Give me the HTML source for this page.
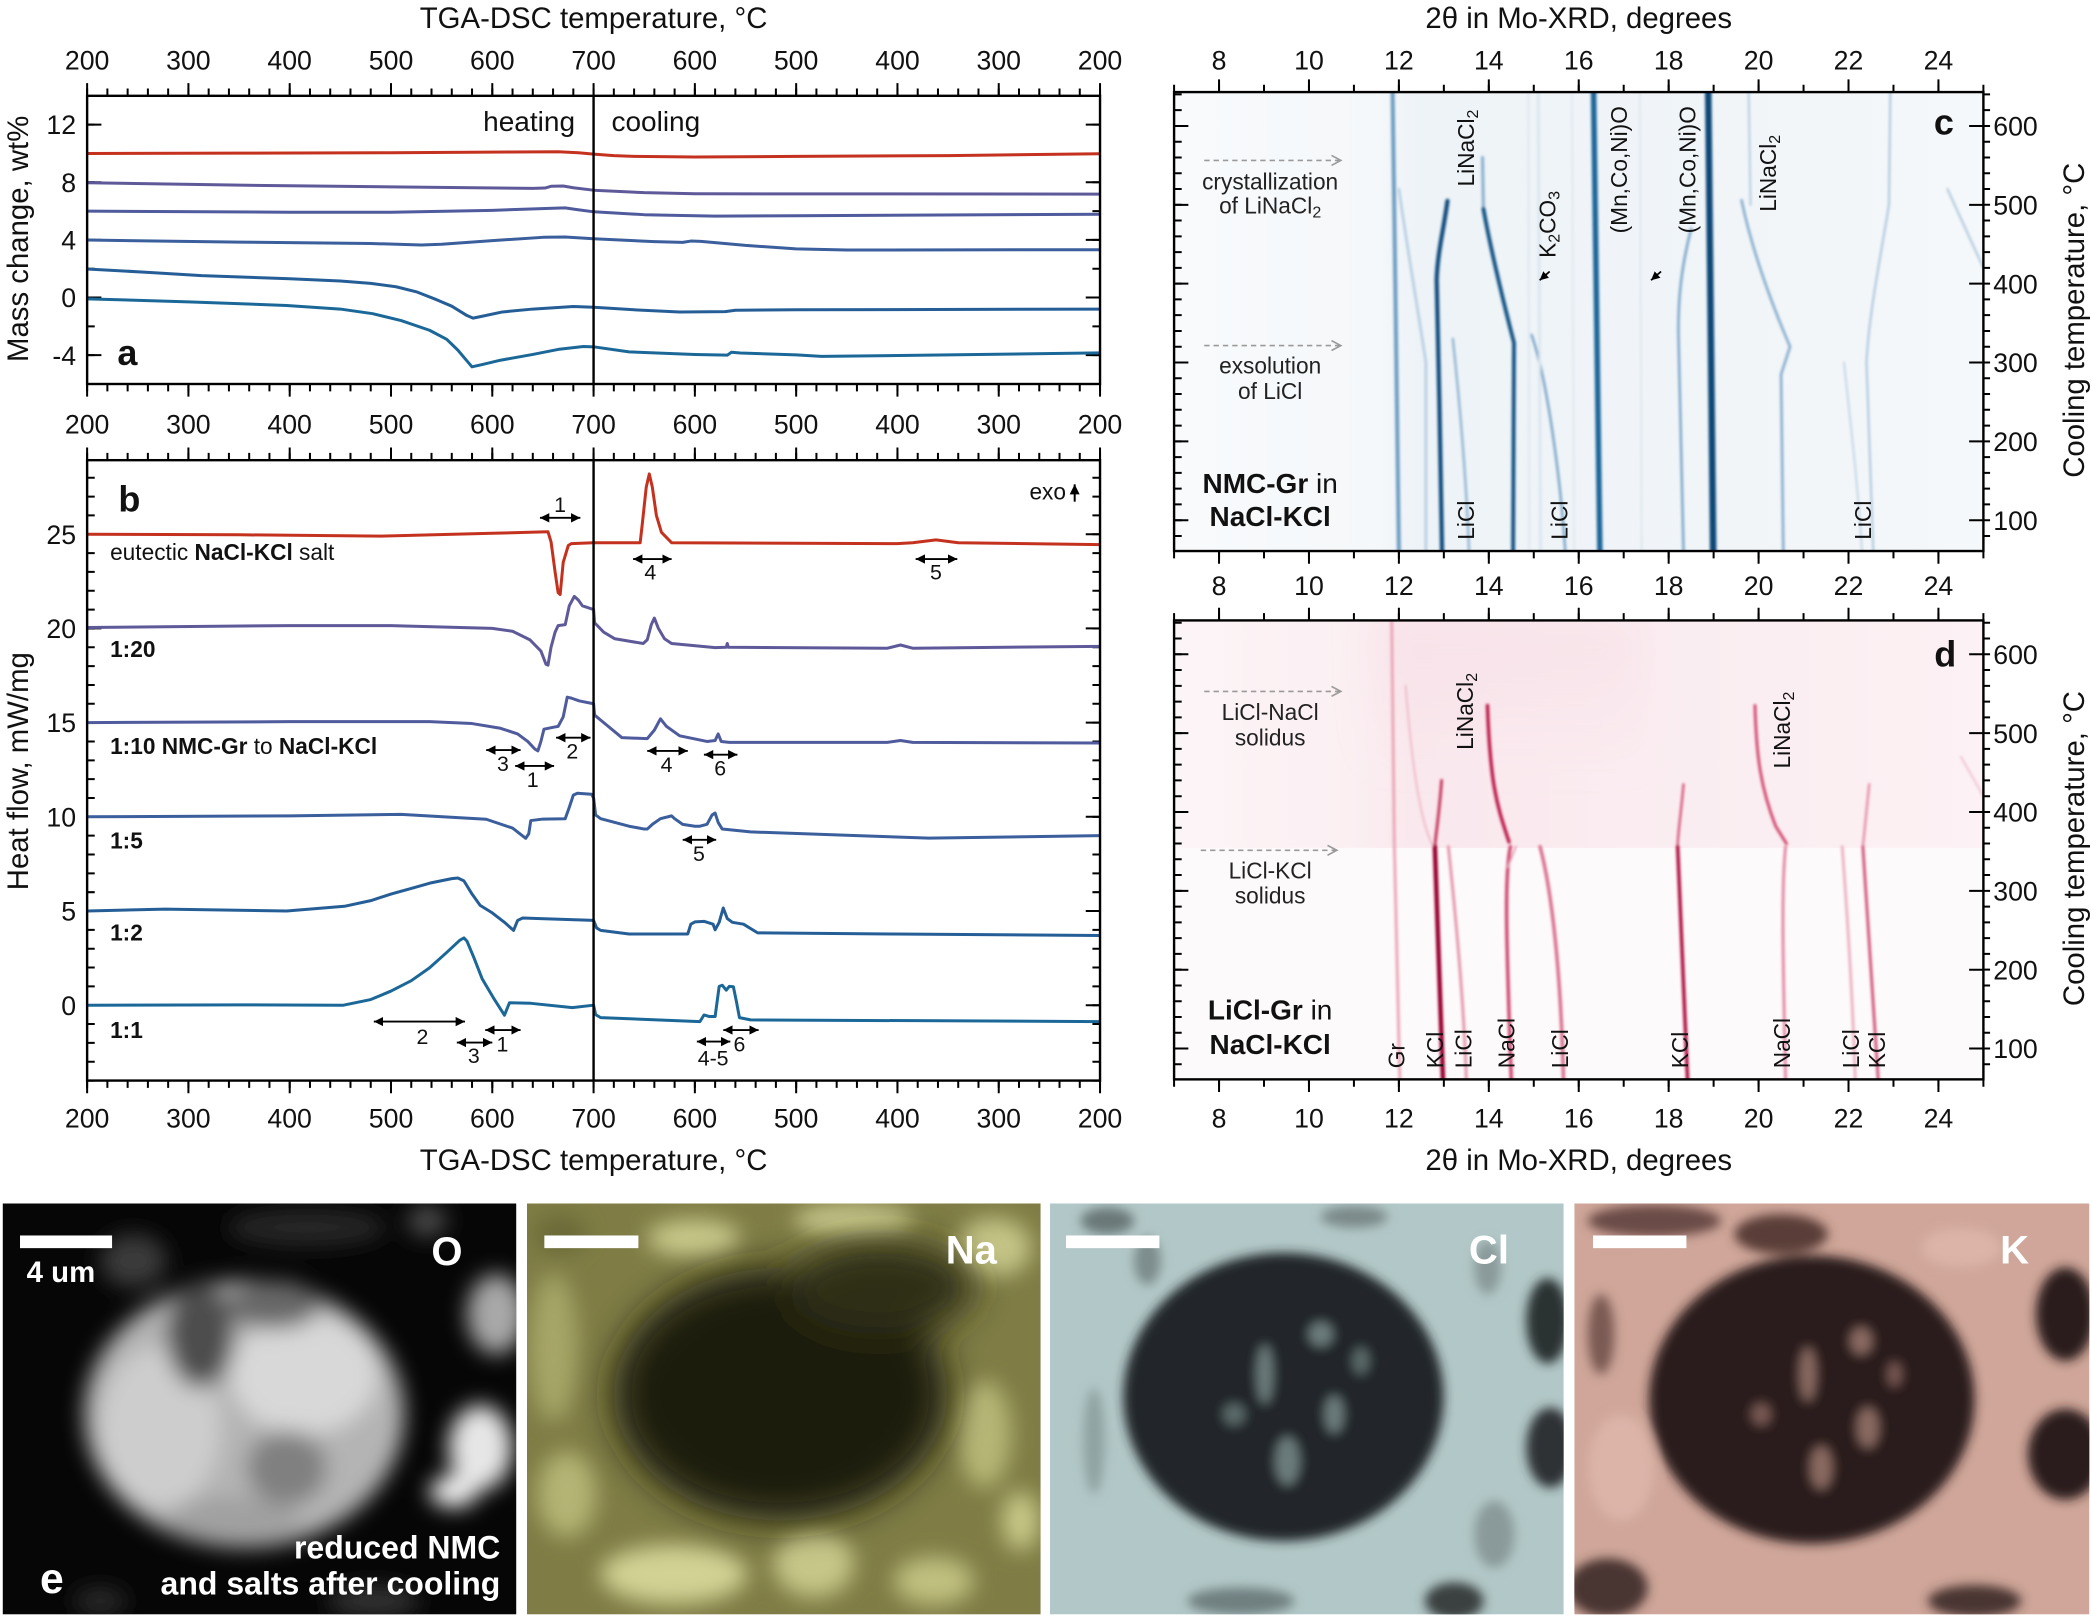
<!DOCTYPE html>
<html><head><meta charset="utf-8"><style>
html,body{margin:0;padding:0;background:#fff}
svg{display:block}
.ns path,.ns polyline,.ns line{vector-effect:non-scaling-stroke}
</style></head><body>
<svg xmlns="http://www.w3.org/2000/svg" width="2092" height="1616" viewBox="0 0 1568 1211.2" font-family="'Liberation Sans', Arial, sans-serif" fill="#111">
<defs>
<clipPath id="clipC"><rect x="880" y="69" width="606.6" height="344"/></clipPath>
<clipPath id="clipD"><rect x="880" y="465" width="606.6" height="344"/></clipPath>
<clipPath id="e1"><rect x="2" y="902" width="385" height="308"/></clipPath>
<clipPath id="e2"><rect x="395" y="902" width="385" height="308"/></clipPath>
<clipPath id="e3"><rect x="787" y="902" width="385" height="308"/></clipPath>
<clipPath id="e4"><rect x="1180" y="902" width="386" height="308"/></clipPath>
<linearGradient id="gC" x1="0" y1="0" x2="1" y2="0">
<stop offset="0" stop-color="#f8fafc"/><stop offset="0.25" stop-color="#f5f8fa"/><stop offset="0.3" stop-color="#eef3f7"/><stop offset="0.7" stop-color="#f1f5f8"/><stop offset="1" stop-color="#f5f8fa"/>
</linearGradient>
<linearGradient id="gD" x1="0" y1="0" x2="1" y2="0">
<stop offset="0" stop-color="#fcf5f7"/><stop offset="0.22" stop-color="#fbeff2"/><stop offset="0.3" stop-color="#f9e8ed"/><stop offset="0.55" stop-color="#faecf0"/><stop offset="1" stop-color="#fcf1f4"/>
</linearGradient>
<linearGradient id="gD2" x1="0" y1="0" x2="0" y2="1">
<stop offset="0" stop-color="#f6dde5" stop-opacity="0.6"/><stop offset="1" stop-color="#f6dde5" stop-opacity="0"/>
</linearGradient>
<filter id="bl1" x="-5%" y="-5%" width="110%" height="110%"><feGaussianBlur stdDeviation="0.9"/></filter>
<filter id="bl4" x="-20%" y="-20%" width="140%" height="140%"><feGaussianBlur stdDeviation="4"/></filter>
<filter id="bl8" x="-20%" y="-20%" width="140%" height="140%"><feGaussianBlur stdDeviation="8"/></filter>
<filter id="bl14" x="-30%" y="-30%" width="160%" height="160%"><feGaussianBlur stdDeviation="14"/></filter>
<marker id="ar" viewBox="0 0 10 10" refX="10" refY="5" markerWidth="5" markerHeight="5" orient="auto"><path d="M0,0L10,5L0,10z" fill="#000"/></marker>
<marker id="al" viewBox="0 0 10 10" refX="0" refY="5" markerWidth="5" markerHeight="5" orient="auto"><path d="M10,0L0,5L10,10z" fill="#000"/></marker>
</defs>

<!-- ===================== PANEL A ===================== -->
<text x="444.9" y="21" font-size="22" text-anchor="middle">TGA-DSC temperature, °C</text>
<g font-size="20" text-anchor="middle">
<text x="65.3" y="52">200</text><text x="141.2" y="52">300</text><text x="217.1" y="52">400</text><text x="293.1" y="52">500</text><text x="369" y="52">600</text><text x="444.9" y="52">700</text><text x="520.8" y="52">600</text><text x="596.7" y="52">500</text><text x="672.7" y="52">400</text><text x="748.6" y="52">300</text><text x="824.5" y="52">200</text>
<text x="65.3" y="324.8">200</text><text x="141.2" y="324.8">300</text><text x="217.1" y="324.8">400</text><text x="293.1" y="324.8">500</text><text x="369" y="324.8">600</text><text x="444.9" y="324.8">700</text><text x="520.8" y="324.8">600</text><text x="596.7" y="324.8">500</text><text x="672.7" y="324.8">400</text><text x="748.6" y="324.8">300</text><text x="824.5" y="324.8">200</text>
<text x="65.3" y="845">200</text><text x="141.2" y="845">300</text><text x="217.1" y="845">400</text><text x="293.1" y="845">500</text><text x="369" y="845">600</text><text x="444.9" y="845">700</text><text x="520.8" y="845">600</text><text x="596.7" y="845">500</text><text x="672.7" y="845">400</text><text x="748.6" y="845">300</text><text x="824.5" y="845">200</text>
</g>
<g font-size="20" text-anchor="end">
<text x="57" y="100.6">12</text><text x="57" y="143.8">8</text><text x="57" y="187">4</text><text x="57" y="230.2">0</text><text x="57" y="273.4">-4</text>
<text x="57" y="407.6">25</text><text x="57" y="478.2">20</text><text x="57" y="548.8">15</text><text x="57" y="619.4">10</text><text x="57" y="690">5</text><text x="57" y="760.6">0</text>
</g>
<text transform="translate(21,179) rotate(-90)" font-size="22" text-anchor="middle">Mass change, wt%</text>
<text transform="translate(21,578) rotate(-90)" font-size="22" text-anchor="middle">Heat flow, mW/mg</text>
<text x="444.9" y="877" font-size="22" text-anchor="middle">TGA-DSC temperature, °C</text>

<!-- ticks a/b -->
<g stroke="#000" fill="none">
<line x1="64.55" y1="69.05" x2="825.3" y2="69.05" stroke-width="5.5" stroke-dasharray="1.5 13.684"/>
<line x1="64.55" y1="67.05" x2="825.3" y2="67.05" stroke-width="9.5" stroke-dasharray="1.5 74.42"/>
<line x1="64.55" y1="290.55" x2="825.3" y2="290.55" stroke-width="5.5" stroke-dasharray="1.5 13.684"/>
<line x1="64.55" y1="292.55" x2="825.3" y2="292.55" stroke-width="9.5" stroke-dasharray="1.5 74.42"/>
<line x1="64.55" y1="342.15" x2="825.3" y2="342.15" stroke-width="5.5" stroke-dasharray="1.5 13.684"/>
<line x1="64.55" y1="340.15" x2="825.3" y2="340.15" stroke-width="9.5" stroke-dasharray="1.5 74.42"/>
<line x1="64.55" y1="812.65" x2="825.3" y2="812.65" stroke-width="5.5" stroke-dasharray="1.5 13.684"/>
<line x1="64.55" y1="814.65" x2="825.3" y2="814.65" stroke-width="9.5" stroke-dasharray="1.5 74.42"/>
<line x1="68.15" y1="288.55" x2="68.15" y2="72" stroke-width="5.7" stroke-dasharray="1.5 20.1"/>
<line x1="70.65" y1="266.95" x2="70.65" y2="72" stroke-width="10.7" stroke-dasharray="1.5 41.7"/>
<line x1="821.65" y1="288.55" x2="821.65" y2="72" stroke-width="5.7" stroke-dasharray="1.5 20.1"/>
<line x1="819.15" y1="266.95" x2="819.15" y2="72" stroke-width="10.7" stroke-dasharray="1.5 41.7"/>
<line x1="68.15" y1="810.65" x2="68.15" y2="345" stroke-width="5.7" stroke-dasharray="1.5 12.62"/>
<line x1="70.65" y1="754.15" x2="70.65" y2="345" stroke-width="10.7" stroke-dasharray="1.5 69.1"/>
<line x1="821.65" y1="810.65" x2="821.65" y2="345" stroke-width="5.7" stroke-dasharray="1.5 12.62"/>
<line x1="819.15" y1="754.15" x2="819.15" y2="345" stroke-width="10.7" stroke-dasharray="1.5 69.1"/>
</g>

<!-- curves a -->
<g class="ns" transform="translate(65.3,223) scale(0.7592,-10.8)" fill="none" stroke-width="3" stroke-linejoin="round">
<polyline stroke="#c4321f" points="0,10 150,10.02 300,10.05 420,10.1 465,10.12 485,10.05 500,9.95 520,9.85 540,9.8 600,9.75 700,9.8 850,9.85 1000,9.98"/>
<polyline stroke="#5e5a9a" points="0,7.97 150,7.8 300,7.68 440,7.58 452,7.6 458,7.72 470,7.74 480,7.62 500,7.45 550,7.28 600,7.2 1000,7.18"/>
<polyline stroke="#4f5b9c" points="0,6 200,5.92 300,5.92 400,6.05 460,6.2 472,6.22 482,6.12 500,5.95 550,5.75 620,5.65 700,5.68 1000,5.78"/>
<polyline stroke="#3b5e9c" points="0,3.99 150,3.85 280,3.75 330,3.65 350,3.7 400,3.95 450,4.18 472,4.2 500,4.08 560,3.88 588,3.83 596,3.92 606,3.9 650,3.62 700,3.38 750,3.3 1000,3.32"/>
<polyline stroke="#255e96" points="0,1.98 60,1.75 113,1.52 200,1.3 250,1.15 280,0.98 305,0.75 325,0.4 345,-0.15 360,-0.6 375,-1.25 381,-1.43 390,-1.3 410,-1 440,-0.8 480,-0.62 500,-0.67 540,-0.85 585,-1 630,-0.98 640,-0.88 700,-0.85 1000,-0.8"/>
<polyline stroke="#1b6898" points="0,-0.09 100,-0.3 197,-0.55 250,-0.8 282,-1.12 310,-1.6 338,-2.27 355,-2.9 366,-3.65 375,-4.4 380,-4.81 390,-4.65 408,-4.35 440,-3.95 465,-3.6 490,-3.4 500,-3.42 535,-3.77 600,-3.95 632,-4 636,-3.8 645,-3.85 700,-3.98 725,-4.08 831,-4 1000,-3.84"/>
</g>
<rect x="65.3" y="71.8" width="759.2" height="216" fill="none" stroke="#000" stroke-width="1.8"/>
<line x1="444.9" y1="71.8" x2="444.9" y2="287.8" stroke="#000" stroke-width="1.8"/>
<text x="431" y="98" font-size="21" text-anchor="end">heating</text>
<text x="458.3" y="98" font-size="21">cooling</text>
<text x="88" y="273.5" font-size="27" font-weight="bold">a</text>

<!-- ===================== PANEL B ===================== -->
<g class="ns" transform="translate(65.3,753.4) scale(0.7592,-14.12)" fill="none" stroke-width="3" stroke-linejoin="round">
<polyline stroke="#c4321f" points="0,25 150,24.97 290,24.9 400,25.05 455,25.13 458,24.6 462,23 465,21.9 467,21.8 470,23.5 475,24.4 478,24.5 500,24.55 546,24.55 548,25.5 552,27.5 555,28.2 558,27.5 562,26 567,25.1 577,24.55 800,24.5 815,24.55 838,24.7 860,24.55 1000,24.45"/>
<polyline stroke="#5e5a9a" points="0,20.05 200,20.15 300,20.15 400,20 420,19.85 437,19.4 448,18.8 453,18.1 455,18.05 458,19 462,19.8 465,20.15 472,20.2 476,21.2 481,21.7 485,21.5 489,21.2 500,21 501,20.3 510,19.8 521,19.45 549,19.2 553,19.4 557,20.2 560,20.55 564,20 570,19.45 577,19.2 620,18.98 631,19 632,19.2 633,19 790,18.95 803,19.12 815,18.95 1000,19.05"/>
<polyline stroke="#4f5b9c" points="0,15 200,15.05 338,15.05 380,14.95 408,14.7 425,14.4 435,14 442,13.6 445,13.5 448,14 451,14.65 460,14.75 465,14.8 470,15.3 474,16.35 478,16.3 486,16.15 500,16 501,15.4 510,15 528,14.2 553,14.15 560,14.6 566,15.2 572,14.8 585,14.3 612,14 620,14.05 623,14.4 626,14 634,13.95 790,13.95 803,14.05 815,13.95 1000,13.92"/>
<polyline stroke="#3b5e9c" points="0,10 200,10.05 310,10.13 394,9.87 420,9.4 433,8.86 436,9.1 438,9.8 450,9.88 472,9.9 476,10.5 480,11.15 484,11.25 498,11.2 500,11 502,10.1 507,9.9 535,9.5 550,9.35 553,9.35 558,9.6 566,9.9 577,10.05 580,9.9 588,9.6 600,9.5 605,9.5 612,9.6 617,10.1 620,10.2 623,9.7 627,9.35 655,9.2 760,9 831,8.87 1000,9"/>
<polyline stroke="#255e96" points="0,5 77,5.1 197,5 254,5.25 280,5.55 300,5.9 320,6.2 340,6.5 360,6.72 366,6.75 372,6.6 380,5.9 388,5.3 400,4.9 412,4.4 421,3.97 425,4.5 430,4.63 444,4.6 500,4.5 503,4.1 507,3.97 535,3.78 593,3.78 596,4.3 600,4.42 609,4.45 618,4.3 620,4 624,4.4 628,5.16 632,4.6 637,4.4 648,4.3 662,3.84 796,3.78 1000,3.7"/>
<polyline stroke="#1b6898" points="0,0 150,0.02 253,0 280,0.3 300,0.75 320,1.3 338,1.98 355,2.8 368,3.45 372,3.57 375,3.4 382,2.5 390,1.4 401,0.4 412,-0.53 417,0.13 438,0.1 479,-0.13 500,0 502,-0.5 507,-0.66 550,-0.75 605,-0.87 609,-0.52 614,-0.6 620,-0.6 624,1 627,1.06 631,0.8 634,1 638,0.98 641,0.2 644,-0.66 655,-0.78 1000,-0.87"/>
</g>
<rect x="65.3" y="344.9" width="759.2" height="465" fill="none" stroke="#000" stroke-width="1.8"/>
<line x1="444.9" y1="344.9" x2="444.9" y2="809.9" stroke="#000" stroke-width="1.8"/>
<text x="88.7" y="383.5" font-size="27" font-weight="bold">b</text>
<g font-size="17">
<text x="82.5" y="419.7">eutectic <tspan font-weight="bold">NaCl-KCl</tspan> salt</text>
<text x="82.5" y="492.5" font-weight="bold">1:20</text>
<text x="82.5" y="565"><tspan font-weight="bold">1:10</tspan> <tspan font-weight="bold">NMC-Gr</tspan> to <tspan font-weight="bold">NaCl-KCl</tspan></text>
<text x="82.5" y="636" font-weight="bold">1:5</text>
<text x="82.5" y="705" font-weight="bold">1:2</text>
<text x="82.5" y="778" font-weight="bold">1:1</text>
<text x="799" y="374.5" text-anchor="end">exo</text>
</g>
<line x1="805.5" y1="376" x2="805.5" y2="363" stroke="#000" stroke-width="1.5" marker-end="url(#ar)"/>
<g stroke="#000" stroke-width="1.4" marker-start="url(#al)" marker-end="url(#ar)">
<line x1="404.7" y1="388.1" x2="435" y2="388.1"/>
<line x1="474.5" y1="419" x2="503.4" y2="419"/>
<line x1="686.3" y1="419" x2="717.5" y2="419"/>
<line x1="364.4" y1="562.2" x2="390.2" y2="562.2"/>
<line x1="386.1" y1="574.1" x2="415.3" y2="574.1"/>
<line x1="416.8" y1="552.9" x2="442.6" y2="552.9"/>
<line x1="485.1" y1="562.8" x2="515.5" y2="562.8"/>
<line x1="527.6" y1="565.6" x2="552.7" y2="565.6"/>
<line x1="511.7" y1="629.4" x2="536.8" y2="629.4"/>
<line x1="280.2" y1="765.7" x2="348.5" y2="765.7"/>
<line x1="342.4" y1="781.4" x2="369" y2="781.4"/>
<line x1="363.7" y1="772" x2="390.2" y2="772"/>
<line x1="522.3" y1="780.7" x2="547.4" y2="780.7"/>
<line x1="542.1" y1="772" x2="568.6" y2="772"/>
</g>
<g font-size="16" text-anchor="middle">
<text x="419.8" y="383.6">1</text>
<text x="487.4" y="434.4">4</text>
<text x="701.5" y="434.4">5</text>
<text x="377" y="578">3</text>
<text x="399.3" y="590">1</text>
<text x="429" y="568.6">2</text>
<text x="499.6" y="578.5">4</text>
<text x="539.8" y="581.3">6</text>
<text x="523.9" y="645.2">5</text>
<text x="316.6" y="782.4">2</text>
<text x="355.1" y="796.6">3</text>
<text x="376.6" y="788">1</text>
<text x="534.5" y="798.5">4-5</text>
<text x="554.2" y="788">6</text>
</g>

<!-- ===================== PANEL C ===================== -->
<text x="1183.3" y="21" font-size="22" text-anchor="middle">2θ in Mo-XRD, degrees</text>
<g font-size="20" text-anchor="middle">
<text x="913.7" y="52">8</text><text x="981.1" y="52">10</text><text x="1048.5" y="52">12</text><text x="1115.9" y="52">14</text><text x="1183.3" y="52">16</text><text x="1250.7" y="52">18</text><text x="1318.1" y="52">20</text><text x="1385.5" y="52">22</text><text x="1452.9" y="52">24</text>
<text x="913.7" y="446">8</text><text x="981.1" y="446">10</text><text x="1048.5" y="446">12</text><text x="1115.9" y="446">14</text><text x="1183.3" y="446">16</text><text x="1250.7" y="446">18</text><text x="1318.1" y="446">20</text><text x="1385.5" y="446">22</text><text x="1452.9" y="446">24</text>
<text x="913.7" y="845">8</text><text x="981.1" y="845">10</text><text x="1048.5" y="845">12</text><text x="1115.9" y="845">14</text><text x="1183.3" y="845">16</text><text x="1250.7" y="845">18</text><text x="1318.1" y="845">20</text><text x="1385.5" y="845">22</text><text x="1452.9" y="845">24</text>
</g>
<g font-size="20">
<text x="1494" y="101.6">600</text><text x="1494" y="160.7">500</text><text x="1494" y="219.8">400</text><text x="1494" y="278.9">300</text><text x="1494" y="338">200</text><text x="1494" y="397.1">100</text>
<text x="1494" y="497.6">600</text><text x="1494" y="556.7">500</text><text x="1494" y="615.8">400</text><text x="1494" y="674.9">300</text><text x="1494" y="734">200</text><text x="1494" y="793.1">100</text>
</g>
<text transform="translate(1562,240) rotate(-90)" font-size="22" text-anchor="middle">Cooling temperature, °C</text>
<text transform="translate(1562,636) rotate(-90)" font-size="22" text-anchor="middle">Cooling temperature, °C</text>
<text x="1183.3" y="877" font-size="22" text-anchor="middle">2θ in Mo-XRD, degrees</text>

<!-- heatmap c -->
<g clip-path="url(#clipC)">
<rect x="880" y="69" width="606.6" height="344" fill="url(#gC)"/>
<g filter="url(#bl1)">
<g class="ns" transform="translate(644.1,449) scale(33.7,-0.591)" fill="none" stroke-linecap="round" stroke-linejoin="round">
<path d="M11.86,643 L11.92,400 L12,61" stroke="#4a86b3" stroke-width="4" opacity="0.8"/>
<path d="M12.0,520 C12.2,440 12.5,340 12.6,300 L12.6,61" stroke="#b2cbe0" stroke-width="2.5"/>
<path d="M13.08,505 C13,470 12.86,440 12.84,405 L12.9,250 L12.96,61" stroke="#0c4a7c" stroke-width="4.2"/>
<path d="M13.86,560 L13.88,495" stroke="#86adcc" stroke-width="3"/>
<path d="M13.88,495 C14.05,440 14.4,360 14.56,325 L14.54,61" stroke="#0e4f82" stroke-width="3.8"/>
<path d="M13.2,330 C13.35,250 13.5,150 13.56,61" stroke="#93b6d3" stroke-width="2.5"/>
<path d="M14.95,335 C15.3,280 15.6,150 15.7,61" stroke="#7aa5c8" stroke-width="2.5"/>
<path d="M14.88,643 L14.9,61" stroke="#dde7f0" stroke-width="2"/>
<path d="M15.1,643 L15.15,61" stroke="#d8e4ee" stroke-width="2.5"/>
<path d="M15.85,643 L15.9,61" stroke="#dfe8f0" stroke-width="2"/>
<path d="M16.33,643 L16.47,61" stroke="#1f6699" stroke-width="5.5"/>
<path d="M17.36,643 L17.4,61" stroke="#dce6ef" stroke-width="2"/>
<path d="M18.5,470 C18.28,420 18.2,380 18.22,330 L18.33,61" stroke="#78a4c8" stroke-width="2.5"/>
<path d="M18.88,643 L18.99,61" stroke="#0a4676" stroke-width="6.5"/>
<path d="M19.78,643 L19.82,500" stroke="#b2cbe0" stroke-width="2"/>
<path d="M19.62,506 C19.9,430 20.4,360 20.7,320 L20.5,285 L20.55,61" stroke="#80a9cb" stroke-width="2.5"/>
<path d="M22.93,643 L22.9,500 C22.7,430 22.45,360 22.4,300 L22.55,61" stroke="#a8c3db" stroke-width="2"/>
<path d="M21.9,300 C22.05,220 22.2,150 22.3,61" stroke="#c2d5e5" stroke-width="2"/>
<path d="M24.2,520 L25,420" stroke="#aac5dc" stroke-width="2"/>
</g>
</g>
</g>

<!-- heatmap d -->
<g clip-path="url(#clipD)">
<rect x="880" y="465" width="606.6" height="344" fill="#fdfafb"/>
<rect x="880" y="465" width="606.6" height="170.5" fill="url(#gD)"/>
<rect x="1030" y="465" width="200" height="110" fill="url(#gD2)" filter="url(#bl14)"/>
<g filter="url(#bl1)">
<g class="ns" transform="translate(644.1,845) scale(33.7,-0.591)" fill="none" stroke-linecap="round" stroke-linejoin="round">
<path d="M11.84,643 L11.9,356 L12.02,61" stroke="#eaa6b8" stroke-width="3"/>
<path d="M12.15,560 C12.3,450 12.5,385 12.75,358" stroke="#efbccb" stroke-width="2"/>
<path d="M12.95,440 C12.9,400 12.82,370 12.8,357" stroke="#c63a62" stroke-width="3"/>
<path d="M12.8,356 L12.98,61" stroke="#990630" stroke-width="4.5"/>
<path d="M13.1,356 C13.3,250 13.45,150 13.5,61" stroke="#e497ad" stroke-width="3"/>
<path d="M13.97,535 C14,480 14.08,445 14.12,432 C14.2,405 14.3,388 14.45,362" stroke="#bd1c4c" stroke-width="3.5"/>
<path d="M14.48,356 C14.35,320 14.38,250 14.5,61" stroke="#cf4a72" stroke-width="3.5"/>
<path d="M14.6,356 L14.42,330" stroke="#e8a0b5" stroke-width="2"/>
<path d="M15.14,356 C15.4,300 15.6,200 15.66,61" stroke="#d9708f" stroke-width="3.5"/>
<path d="M18.33,435 C18.28,400 18.2,372 18.2,356" stroke="#d65c80" stroke-width="2.5"/>
<path d="M18.2,356 L18.42,61" stroke="#ad1040" stroke-width="3.5"/>
<path d="M19.92,535 C19.95,470 20.05,430 20.38,382 L20.62,360" stroke="#d24d74" stroke-width="3"/>
<path d="M20.6,356 C20.5,300 20.55,200 20.6,61" stroke="#e38aa5" stroke-width="3"/>
<path d="M21.86,356 C22,250 22.1,150 22.15,61" stroke="#ecb4c4" stroke-width="3"/>
<path d="M22.46,435 L22.32,356" stroke="#e592ab" stroke-width="2.5"/>
<path d="M22.32,356 L22.66,61" stroke="#d2587d" stroke-width="3"/>
<path d="M24.5,470 L25,420" stroke="#f0c4d2" stroke-width="2"/>
</g>
</g>
</g>

<!-- ticks c/d -->
<g stroke="#000" fill="none">
<line x1="879.25" y1="66.25" x2="1487.4" y2="66.25" stroke-width="5.5" stroke-dasharray="1.5 32.2"/>
<line x1="912.95" y1="64.25" x2="1487.4" y2="64.25" stroke-width="9.5" stroke-dasharray="1.5 65.9"/>
<line x1="879.25" y1="415.75" x2="1487.4" y2="415.75" stroke-width="5.5" stroke-dasharray="1.5 32.2"/>
<line x1="912.95" y1="417.75" x2="1487.4" y2="417.75" stroke-width="9.5" stroke-dasharray="1.5 65.9"/>
<line x1="879.25" y1="462.25" x2="1487.4" y2="462.25" stroke-width="5.5" stroke-dasharray="1.5 32.2"/>
<line x1="912.95" y1="460.25" x2="1487.4" y2="460.25" stroke-width="9.5" stroke-dasharray="1.5 65.9"/>
<line x1="879.25" y1="811.75" x2="1487.4" y2="811.75" stroke-width="5.5" stroke-dasharray="1.5 32.2"/>
<line x1="912.95" y1="813.75" x2="1487.4" y2="813.75" stroke-width="9.5" stroke-dasharray="1.5 65.9"/>
<line x1="882.85" y1="402.45" x2="882.85" y2="69" stroke-width="5.7" stroke-dasharray="1.5 10.32"/>
<line x1="885.35" y1="390.65" x2="885.35" y2="69" stroke-width="10.7" stroke-dasharray="1.5 57.6"/>
<line x1="1489.1" y1="402.45" x2="1489.1" y2="69" stroke-width="5" stroke-dasharray="1.5 10.32"/>
<line x1="1481.25" y1="390.65" x2="1481.25" y2="69" stroke-width="10.7" stroke-dasharray="1.5 57.6"/>
<line x1="882.85" y1="798.45" x2="882.85" y2="465" stroke-width="5.7" stroke-dasharray="1.5 10.32"/>
<line x1="885.35" y1="786.65" x2="885.35" y2="465" stroke-width="10.7" stroke-dasharray="1.5 57.6"/>
<line x1="1489.1" y1="798.45" x2="1489.1" y2="465" stroke-width="5" stroke-dasharray="1.5 10.32"/>
<line x1="1481.25" y1="786.65" x2="1481.25" y2="465" stroke-width="10.7" stroke-dasharray="1.5 57.6"/>
</g>
<rect x="880" y="69" width="606.6" height="344" fill="none" stroke="#000" stroke-width="1.8"/>
<rect x="880" y="465" width="606.6" height="344" fill="none" stroke="#000" stroke-width="1.8"/>

<!-- labels c -->
<g font-size="17">
<text transform="translate(1104.8,139.8) rotate(-90)">LiNaCl<tspan font-size="12" dy="3">2</tspan></text>
<text transform="translate(1165.7,193.3) rotate(-90)">K<tspan font-size="12" dy="3">2</tspan><tspan dy="-3">CO</tspan><tspan font-size="12" dy="3">3</tspan></text>
<text transform="translate(1219.6,174.9) rotate(-90)">(Mn,Co,Ni)O</text>
<text transform="translate(1270.8,174.9) rotate(-90)">(Mn,Co,Ni)O</text>
<text transform="translate(1331.2,158.7) rotate(-90)">LiNaCl<tspan font-size="12" dy="3">2</tspan></text>
<text transform="translate(1104.8,404.5) rotate(-90)">LiCl</text>
<text transform="translate(1174.7,404.5) rotate(-90)">LiCl</text>
<text transform="translate(1402.5,404.5) rotate(-90)">LiCl</text>
</g>
<g font-size="17" text-anchor="middle" fill="#222">
<text x="952" y="142">crystallization</text>
<text x="952" y="160">of LiNaCl<tspan font-size="12" dy="3">2</tspan></text>
<text x="952" y="280">exsolution</text>
<text x="952" y="299">of LiCl</text>
<text x="952" y="539.8">LiCl-NaCl</text>
<text x="952" y="558.6">solidus</text>
<text x="952" y="658.4">LiCl-KCl</text>
<text x="952" y="677.2">solidus</text>
</g>
<g font-size="21" text-anchor="middle">
<text x="952" y="369.5"><tspan font-weight="bold">NMC-Gr</tspan> in</text>
<text x="952" y="394.3" font-weight="bold">NaCl-KCl</text>
<text x="952" y="764"><tspan font-weight="bold">LiCl-Gr</tspan> in</text>
<text x="952" y="790" font-weight="bold">NaCl-KCl</text>
</g>
<g stroke="#9a9a9a" stroke-width="1.2" fill="none">
<line x1="902.6" y1="120.2" x2="1004" y2="120.2" stroke-dasharray="4 3"/>
<polyline points="998,116.5 1005,120.2 998,124"/>
<line x1="902.6" y1="259" x2="1004" y2="259" stroke-dasharray="4 3"/>
<polyline points="998,255.3 1005,259 998,262.7"/>
<line x1="902.6" y1="518.2" x2="1004" y2="518.2" stroke-dasharray="4 3"/>
<polyline points="998,514.5 1005,518.2 998,521.9"/>
<line x1="900" y1="637.3" x2="1001" y2="637.3" stroke-dasharray="4 3"/>
<polyline points="995,633.6 1002,637.3 995,641"/>
</g>
<g stroke="#000" stroke-width="1.3">
<line x1="1161.5" y1="203.5" x2="1154" y2="210" marker-end="url(#ar)"/>
<line x1="1245" y1="203.5" x2="1237.5" y2="210" marker-end="url(#ar)"/>
</g>
<text x="1457" y="100.8" font-size="27" font-weight="bold" text-anchor="middle">c</text>
<text x="1458" y="499.4" font-size="27" font-weight="bold" text-anchor="middle">d</text>

<!-- labels d -->
<g font-size="17">
<text transform="translate(1104,562) rotate(-90)">LiNaCl<tspan font-size="12" dy="3">2</tspan></text>
<text transform="translate(1341.6,576) rotate(-90)">LiNaCl<tspan font-size="12" dy="3">2</tspan></text>
<text transform="translate(1052.7,800.7) rotate(-90)">Gr</text>
<text transform="translate(1081.5,800.7) rotate(-90)">KCl</text>
<text transform="translate(1103,800.7) rotate(-90)">LiCl</text>
<text transform="translate(1135.2,800.7) rotate(-90)">NaCl</text>
<text transform="translate(1175.2,800.7) rotate(-90)">LiCl</text>
<text transform="translate(1265.2,800.7) rotate(-90)">KCl</text>
<text transform="translate(1341.6,800.7) rotate(-90)">NaCl</text>
<text transform="translate(1393.5,800.7) rotate(-90)">LiCl</text>
<text transform="translate(1412.9,800.7) rotate(-90)">KCl</text>
</g>

<!-- ===================== PANEL E ===================== -->
<g clip-path="url(#e1)">
<rect x="2" y="902" width="385" height="308" fill="#060606"/>
<g filter="url(#bl8)">
<ellipse cx="183" cy="1060" rx="120" ry="100" fill="#b4b4b4"/>
<ellipse cx="120" cy="1070" rx="45" ry="60" fill="#cdcdcd"/>
<ellipse cx="228" cy="1030" rx="55" ry="45" fill="#d8d8d8"/>
<ellipse cx="150" cy="1000" rx="25" ry="40" fill="#4e4e4e"/>
<ellipse cx="205" cy="978" rx="35" ry="18" fill="#686868"/>
<ellipse cx="215" cy="1100" rx="30" ry="28" fill="#808080"/>
<ellipse cx="175" cy="1140" rx="50" ry="18" fill="#a0a0a0"/>
<ellipse cx="372" cy="985" rx="22" ry="30" fill="#a8a8a8"/>
<ellipse cx="360" cy="1085" rx="24" ry="32" fill="#e6e6e6"/>
<ellipse cx="340" cy="1118" rx="18" ry="12" fill="#f0f0f0"/>
<ellipse cx="100" cy="945" rx="25" ry="20" fill="#3a3a3a"/>
<ellipse cx="230" cy="920" rx="60" ry="14" fill="#262626"/>
<ellipse cx="320" cy="915" rx="15" ry="12" fill="#4a4a4a"/>
<ellipse cx="280" cy="1200" rx="35" ry="12" fill="#303030"/>
<ellipse cx="75" cy="1200" rx="20" ry="10" fill="#2a2a2a"/>
</g>
</g>
<g clip-path="url(#e2)">
<rect x="395" y="902" width="385" height="308" fill="#7f7d45"/>
<g filter="url(#bl8)">
<ellipse cx="520" cy="928" rx="35" ry="14" fill="#c8c88a"/>
<ellipse cx="640" cy="915" rx="45" ry="12" fill="#cfcf92"/>
<ellipse cx="745" cy="935" rx="28" ry="22" fill="#c4c486"/>
<ellipse cx="505" cy="1180" rx="55" ry="22" fill="#d2d294"/>
<ellipse cx="610" cy="1172" rx="30" ry="25" fill="#c6c688"/>
<ellipse cx="700" cy="1185" rx="30" ry="18" fill="#c0c080"/>
<ellipse cx="415" cy="1010" rx="18" ry="55" fill="#a6a668"/>
<ellipse cx="425" cy="1120" rx="22" ry="32" fill="#b4b474"/>
<ellipse cx="738" cy="1075" rx="20" ry="40" fill="#b6b676"/>
<ellipse cx="765" cy="1140" rx="14" ry="22" fill="#c8c888"/>
<ellipse cx="420" cy="925" rx="20" ry="15" fill="#6a6a38"/>
</g>
<g filter="url(#bl14)">
<ellipse cx="585" cy="1045" rx="125" ry="95" fill="#1c1c0e"/>
<ellipse cx="660" cy="965" rx="70" ry="35" fill="#2e2e18"/>
</g>
</g>
<g clip-path="url(#e3)">
<rect x="787" y="902" width="385" height="308" fill="#b2c7c7"/>
<g filter="url(#bl4)">
<ellipse cx="962" cy="1047" rx="120" ry="108" fill="#23282a"/>
<ellipse cx="948" cy="1030" rx="6" ry="22" fill="#6c7b7c"/>
<ellipse cx="990" cy="1000" rx="9" ry="9" fill="#6c7b7c"/>
<ellipse cx="1000" cy="1060" rx="7" ry="14" fill="#6c7b7c"/>
<ellipse cx="965" cy="1095" rx="9" ry="18" fill="#6c7b7c"/>
<ellipse cx="925" cy="1060" rx="8" ry="8" fill="#5c6a6b"/>
<ellipse cx="1020" cy="1020" rx="6" ry="10" fill="#5c6a6b"/>
<ellipse cx="1160" cy="990" rx="16" ry="32" fill="#2c3133"/>
<ellipse cx="1162" cy="1085" rx="18" ry="30" fill="#2e3335"/>
<ellipse cx="1090" cy="1200" rx="22" ry="14" fill="#3a4040"/>
<ellipse cx="830" cy="915" rx="20" ry="10" fill="#6a7878"/>
<ellipse cx="860" cy="945" rx="10" ry="18" fill="#7d8c8c"/>
<ellipse cx="1015" cy="912" rx="25" ry="8" fill="#7a8888"/>
<ellipse cx="1115" cy="950" rx="10" ry="20" fill="#8a9a9a"/>
<ellipse cx="930" cy="1200" rx="40" ry="10" fill="#6f7f80"/>
<ellipse cx="1120" cy="1150" rx="15" ry="25" fill="#8a9a9a"/>
<ellipse cx="820" cy="1080" rx="8" ry="40" fill="#8fa3a3"/>
</g>
</g>
<g clip-path="url(#e4)">
<rect x="1180" y="902" width="386" height="308" fill="#cfa699"/>
<g filter="url(#bl4)">
<ellipse cx="1215" cy="1100" rx="25" ry="40" fill="#dcb4a8"/>
<ellipse cx="1470" cy="935" rx="30" ry="15" fill="#dcb4a8"/>
<ellipse cx="1358" cy="1049" rx="122" ry="108" fill="#2c1d1b"/>
<ellipse cx="1355" cy="1030" rx="6" ry="20" fill="#8a6a62"/>
<ellipse cx="1395" cy="1005" rx="8" ry="10" fill="#8a6a62"/>
<ellipse cx="1400" cy="1070" rx="8" ry="15" fill="#8a6a62"/>
<ellipse cx="1365" cy="1100" rx="8" ry="16" fill="#8a6a62"/>
<ellipse cx="1320" cy="1060" rx="7" ry="8" fill="#7a5a54"/>
<ellipse cx="1420" cy="1030" rx="5" ry="9" fill="#7a5a54"/>
<ellipse cx="1240" cy="915" rx="50" ry="12" fill="#6a4c46"/>
<ellipse cx="1335" cy="925" rx="35" ry="15" fill="#5a3e38"/>
<ellipse cx="1548" cy="985" rx="22" ry="35" fill="#2a1c1a"/>
<ellipse cx="1548" cy="1090" rx="28" ry="34" fill="#2c1d1b"/>
<ellipse cx="1205" cy="1190" rx="30" ry="22" fill="#4a3430"/>
<ellipse cx="1480" cy="1200" rx="35" ry="12" fill="#4a3430"/>
<ellipse cx="1200" cy="1000" rx="10" ry="30" fill="#7a5a52"/>
</g>
</g>
<g fill="#fff">
<rect x="15" y="926" width="69" height="9.5"/>
<rect x="408" y="926" width="70.5" height="9.5"/>
<rect x="799" y="926" width="70" height="9.5"/>
<rect x="1194" y="926" width="70" height="9.5"/>
<g font-weight="bold">
<text x="20" y="961" font-size="22">4 um</text>
<text x="335" y="948" font-size="30" text-anchor="middle">O</text>
<text x="728" y="947" font-size="30" text-anchor="middle">Na</text>
<text x="1116" y="947" font-size="30" text-anchor="middle">Cl</text>
<text x="1510" y="947" font-size="30" text-anchor="middle">K</text>
<text x="375" y="1168" font-size="24" text-anchor="end">reduced NMC</text>
<text x="375" y="1195" font-size="24" text-anchor="end">and salts after cooling</text>
<text x="30" y="1194" font-size="32">e</text>
</g>
</g>
</svg>
</body></html>
